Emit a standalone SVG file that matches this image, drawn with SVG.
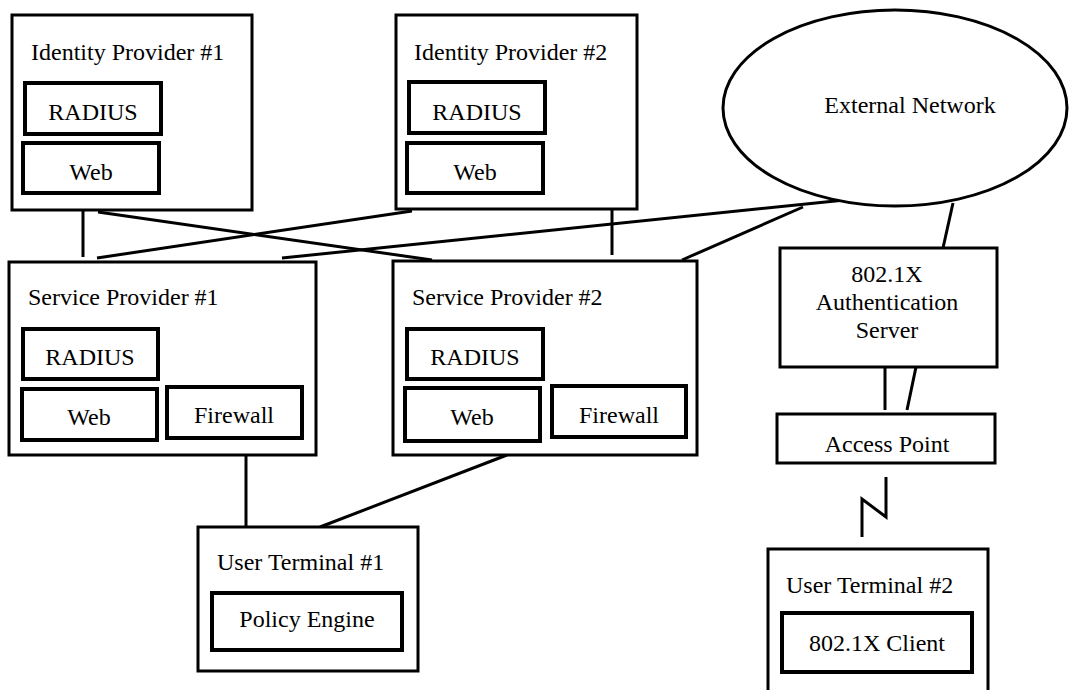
<svg xmlns="http://www.w3.org/2000/svg" width="1070" height="690" viewBox="0 0 1070 690">
<style>
.outer{fill:#fff;stroke:#000;stroke-width:3}
.inner{fill:#fff;stroke:#000;stroke-width:4}
.conn line,.conn path{stroke:#000;stroke-width:3;fill:none}
text{font-family:"Liberation Serif","Times New Roman",serif;font-size:24px;fill:#000}
.c{text-anchor:middle}
</style>
<rect width="1070" height="690" fill="#fff"/>
<g id="connectors" class="conn">
<line x1="83" y1="210" x2="83" y2="257"/>
<line x1="98" y1="212" x2="432" y2="260"/>
<line x1="412" y1="211" x2="97" y2="258"/>
<line x1="612" y1="209" x2="612" y2="255"/>
<line x1="845" y1="200" x2="282" y2="258"/>
<line x1="803" y1="207" x2="682" y2="260"/>
<line x1="953" y1="203" x2="943" y2="248"/>
<line x1="885" y1="363" x2="885" y2="410"/>
<line x1="916" y1="367" x2="907" y2="410"/>
<path d="M886,477 V517 L862,499 V537"/>
<line x1="246" y1="455" x2="246" y2="527"/>
<line x1="507" y1="455" x2="320" y2="527"/>
</g>
<g id="idp1">
<rect class="outer" x="12" y="15" width="240" height="195"/>
<text x="31" y="60">Identity Provider #1</text>
<rect class="inner" x="25" y="83" width="136" height="51"/>
<text class="c" x="93" y="120">RADIUS</text>
<rect class="inner" x="23" y="143" width="136" height="50"/>
<text class="c" x="91" y="180">Web</text>
</g>
<g id="idp2">
<rect class="outer" x="396" y="15" width="241" height="194"/>
<text x="414" y="60">Identity Provider #2</text>
<rect class="inner" x="409" y="82" width="136" height="51"/>
<text class="c" x="477" y="120">RADIUS</text>
<rect class="inner" x="407" y="143" width="136" height="50"/>
<text class="c" x="475" y="180">Web</text>
</g>
<g id="external-network">
<ellipse class="outer" cx="895" cy="108" rx="172" ry="98"/>
<text class="c" x="910" y="113">External Network</text>
</g>
<g id="sp1">
<rect class="outer" x="9" y="262" width="307" height="193"/>
<text x="28" y="305">Service Provider #1</text>
<rect class="inner" x="23" y="329" width="135" height="50"/>
<text class="c" x="90" y="365">RADIUS</text>
<rect class="inner" x="22" y="389" width="135" height="51"/>
<text class="c" x="89" y="425">Web</text>
<rect class="inner" x="167" y="387" width="135" height="51"/>
<text class="c" x="234" y="423">Firewall</text>
</g>
<g id="sp2">
<rect class="outer" x="393" y="261" width="304" height="194"/>
<text x="412" y="305">Service Provider #2</text>
<rect class="inner" x="407" y="329" width="136" height="50"/>
<text class="c" x="475" y="365">RADIUS</text>
<rect class="inner" x="405" y="388" width="135" height="53"/>
<text class="c" x="472" y="425">Web</text>
<rect class="inner" x="552" y="386" width="134" height="51"/>
<text class="c" x="619" y="423">Firewall</text>
</g>
<g id="auth-server">
<rect class="outer" x="780" y="248" width="217" height="119"/>
<text class="c" x="887" y="282">802.1X</text>
<text class="c" x="887" y="310">Authentication</text>
<text class="c" x="887" y="338">Server</text>
</g>
<g id="access-point">
<rect class="outer" x="777" y="414" width="218" height="49"/>
<text class="c" x="887" y="452">Access Point</text>
</g>
<g id="ut1">
<rect class="outer" x="198" y="527" width="220" height="144"/>
<text x="217" y="570">User Terminal #1</text>
<rect class="inner" x="212" y="593" width="190" height="57"/>
<text class="c" x="307" y="627">Policy Engine</text>
</g>
<g id="ut2">
<rect class="outer" x="768" y="549" width="220" height="160"/>
<text x="786" y="593">User Terminal #2</text>
<rect class="inner" x="782" y="613" width="190" height="59"/>
<text class="c" x="877" y="651">802.1X Client</text>
</g>
</svg>
